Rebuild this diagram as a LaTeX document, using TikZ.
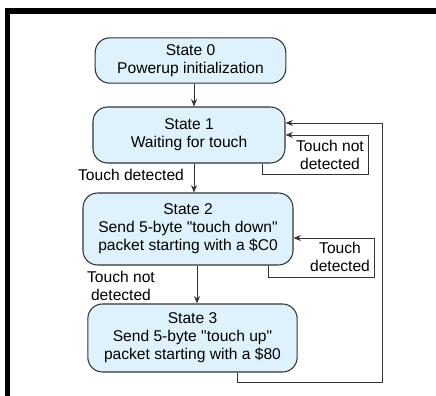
\documentclass[tikz,border=0pt]{standalone}
\usepackage{fontspec}
\setmainfont{Liberation Sans}
\usepackage{tikz}
\usetikzlibrary{arrows.meta}
\definecolor{statefill}{HTML}{DDF2FC}
\definecolor{lineclr}{HTML}{333333}

\begin{document}
\begin{tikzpicture}[x=0.75pt,y=-0.75pt]
	\tikzstyle{state}=[draw=lineclr,line width=0.8pt,fill=statefill,rounded corners=11pt,align=center,inner sep=0pt,font=\fontsize{11.7}{13.5}\selectfont]
	\tikzstyle{lbl}=[align=center,inner sep=0pt,font=\fontsize{11.7}{13.5}\selectfont]
	\tikzstyle{flow}=[draw=lineclr,line width=0.6pt,-{Stealth[length=5.5pt,width=4.5pt]}]
	\useasboundingbox (0,0) rectangle (436,396);
	% frame
	\fill[black] (5,8) rectangle (436,14);
	\fill[black] (5,8) rectangle (10,396);
	% states
	\node[state,minimum width=143pt,minimum height=34pt](s0) at (190.5,60.5) {State 0\\Powerup initialization};
	\node[state,minimum width=144pt,minimum height=42pt](s1) at (189,135) {State 1\\Waiting for touch};
	\node[state,minimum width=157.5pt,minimum height=54pt](s2) at (188,229) {State 2\\Send 5-byte \textquotedbl touch down\textquotedbl\\packet starting with a \$C0};
	\node[state,minimum width=157pt,minimum height=51pt](s3) at (192.5,338) {State 3\\Send 5-byte \textquotedbl touch up\textquotedbl\\packet starting with a \$80};
	% labels
	\node[lbl](l1) at (131,175) {Touch detected};
	\node[lbl](l2) at (330,155) {Touch not\\detected};
	\node[lbl](l3) at (340,257) {Touch\\detected};
	\node[lbl](l4) at (121,286) {Touch not\\detected};
	% columns and rows the connectors run along
	\coordinate (a0) at (194,0);
	\coordinate (a2) at (197,0);
	\coordinate (b1) at (262,174);
	\coordinate (b2) at (268,277);
	\coordinate (b3) at (237,382);
	\coordinate (c1) at (368,135);
	\coordinate (c2) at (374,238);
	\coordinate (c3) at (382,123);
	% straight transitions
	\draw[flow] (s0.south -| a0) -- (s1.north -| a0);
	\draw[flow] (s1.south -| a0) -- (s2.north -| a0);
	\draw[flow] (s2.south -| a2) -- (s3.north -| a2);
	% loops back
	\draw[flow] (s1.south -| b1) -- (b1) -| (c1) -- (s1.east |- c1);
	\draw[flow] (s2.south -| b2) -- (b2) -| (c2) -- (s2.east |- c2);
	\draw[flow] (s3.south -| b3) -- (b3) -| (c3) -- (s1.east |- c3);
\end{tikzpicture}
\end{document}
